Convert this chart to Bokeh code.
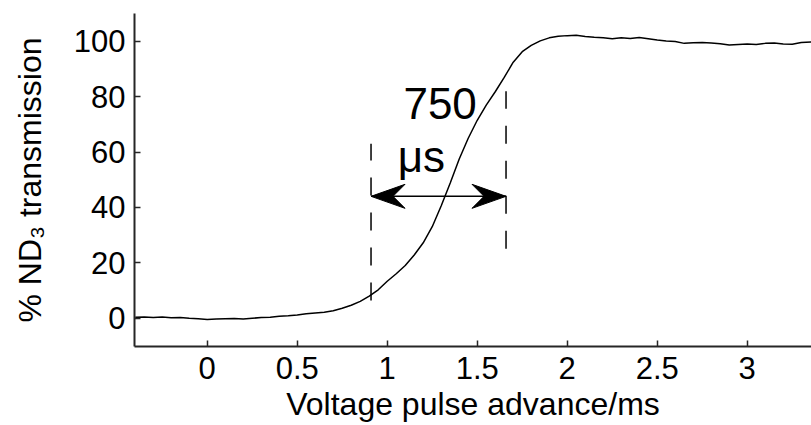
from bokeh.plotting import figure
from bokeh.models import Range1d, Label, FixedTicker
from bokeh.embed import file_html
from bokeh.resources import INLINE

# Measured ND3 transmission against voltage pulse advance
advance_ms = [
    -0.40, -0.35, -0.30, -0.25, -0.20, -0.15, -0.10, -0.05, 0.00, 0.05,
    0.10, 0.15, 0.20, 0.25, 0.30, 0.35, 0.40, 0.45, 0.50, 0.55,
    0.60, 0.65, 0.70, 0.75, 0.80, 0.85, 0.90, 0.95, 1.00, 1.05,
    1.10, 1.15, 1.20, 1.25, 1.30, 1.35, 1.40, 1.45, 1.50, 1.55,
    1.60, 1.65, 1.70, 1.75, 1.80, 1.85, 1.90, 1.95, 2.00, 2.05,
    2.10, 2.15, 2.20, 2.25, 2.30, 2.35, 2.40, 2.45, 2.50, 2.55,
    2.60, 2.65, 2.70, 2.75, 2.80, 2.85, 2.90, 2.95, 3.00, 3.05,
    3.10, 3.15, 3.20, 3.25, 3.30, 3.36,
]
transmission_pct = [
    0.3, 0.4, 0.2, 0.4, 0.1, 0.2, -0.1, -0.3, -0.5, -0.4,
    -0.3, -0.2, -0.4, -0.1, 0.2, 0.3, 0.6, 0.8, 1.1, 1.5,
    1.8, 2.1, 2.6, 3.5, 4.6, 6.0, 7.9, 10.2, 13.3, 16.0,
    19.0, 22.8, 27.2, 33.0, 40.6, 48.8, 57.5, 65.0, 71.5, 77.0,
    81.8, 87.0, 92.5, 96.3, 98.6, 100.2, 101.3, 101.9, 102.1, 102.2,
    101.8, 101.5, 101.3, 101.0, 101.3, 101.1, 101.4, 101.0, 100.5, 100.2,
    100.0, 99.3, 99.5, 99.6, 99.4, 99.2, 98.7, 98.9, 99.1, 98.9,
    99.3, 99.4, 99.1, 99.0, 99.6, 99.8,
]

x_ticks = [0, 0.5, 1, 1.5, 2, 2.5, 3]
x_tick_labels = ["0", "0.5", "1", "1.5", "2", "2.5", "3"]
y_ticks = [0, 20, 40, 60, 80, 100]
y_tick_labels = ["0", "20", "40", "60", "80", "100"]

# Rise-time marker: start of the rise and its width
rise_start_ms = 0.91
rise_width_us = 750
rise_end_ms = rise_start_ms + rise_width_us / 1000.0
marker_x = [rise_start_ms, rise_end_ms]
marker_low = [6.3, 25.0]
marker_high = [63.0, 82.0]
arrow_level = 44.0

FONT = "Liberation Sans"
INK = "#262626"

W, H = 811, 425
BORDER_L, BORDER_R, BORDER_T, BORDER_B = 134, 0, 13, 79
X0, X1 = -0.404, 3.357
Y0, Y1 = -10.3, 110.1

p = figure(
    width=W, height=H,
    output_backend="svg", toolbar_location=None,
    x_range=Range1d(X0, X1), y_range=Range1d(Y0, Y1),
    min_border_left=BORDER_L, min_border_right=BORDER_R,
    min_border_top=BORDER_T, min_border_bottom=BORDER_B,
)
p.outline_line_color = None
p.xgrid.grid_line_color = None
p.ygrid.grid_line_color = None
p.background_fill_color = "white"
p.border_fill_color = "white"

p.xaxis.ticker = FixedTicker(ticks=x_ticks)
p.xaxis.major_label_overrides = dict(zip(x_ticks, x_tick_labels))
p.yaxis.ticker = FixedTicker(ticks=y_ticks)
p.yaxis.major_label_overrides = dict(zip(y_ticks, y_tick_labels))

for ax in (p.xaxis[0], p.yaxis[0]):
    ax.axis_line_color = INK
    ax.axis_line_width = 2
    ax.major_tick_line_color = INK
    ax.major_tick_line_width = 1.5
    ax.major_tick_in = 6
    ax.major_tick_out = 0
    ax.minor_tick_in = 0
    ax.minor_tick_out = 0
    ax.major_label_text_font = FONT
    ax.major_label_text_font_size = "31px"
    ax.major_label_text_color = "black"
    ax.axis_label_text_font = FONT
    ax.axis_label_text_font_style = "normal"
    ax.axis_label_text_color = "black"
    ax.axis_label_text_font_size = "32px"

p.xaxis.major_label_standoff = 10
p.yaxis.major_label_standoff = 9
p.xaxis.major_label_text_line_height = 1.0
p.xaxis.axis_label_text_line_height = 1.0
p.xaxis.axis_label = "Voltage pulse advance/ms"
p.xaxis.axis_label_standoff = 4
p.yaxis.axis_label = "% ND\u2083 transmission"
p.yaxis.axis_label_standoff = 23

# Transmission trace
p.line(advance_ms, transmission_pct, line_color="black", line_width=1.5)

# Dashed markers bounding the rise
p.segment(x0=marker_x, y0=marker_low, x1=marker_x, y1=marker_high,
          line_color="black", line_width=1.5, line_dash="18 17")

# Double-headed arrow spanning the rise time: shaft plus notched heads
p.segment(x0=[rise_start_ms], y0=[arrow_level], x1=[rise_end_ms], y1=[arrow_level],
          line_color="black", line_width=1.5)

px_per_x = (W - BORDER_L - BORDER_R) / (X1 - X0)
px_per_y = (H - BORDER_T - BORDER_B) / (Y1 - Y0)
head_len, head_half, head_notch = 34 / px_per_x, 12 / px_per_y, 22 / px_per_x


def arrow_head(tip_x, tip_y, direction):
    # direction +1 points right, -1 points left
    back = tip_x - direction * head_len
    notch = tip_x - direction * head_notch
    return ([tip_x, back, notch, back],
            [tip_y, tip_y + head_half, tip_y, tip_y - head_half])


hx1, hy1 = arrow_head(rise_start_ms, arrow_level, -1)
hx2, hy2 = arrow_head(rise_end_ms, arrow_level, +1)
p.patches(xs=[hx1, hx2], ys=[hy1, hy2], fill_color="black", line_color="black",
          line_width=1)

p.add_layout(Label(x=1.09, y=77.4, text=str(rise_width_us),
                   text_font=FONT, text_font_size="44px", text_color="black",
                   text_align="left", text_baseline="alphabetic"))
p.add_layout(Label(x=1.058, y=58.3, text="\u03bcs",
                   text_font=FONT, text_font_size="44px", text_color="black",
                   text_align="left", text_baseline="alphabetic"))

open("out.html", "w").write(file_html(p, INLINE))
